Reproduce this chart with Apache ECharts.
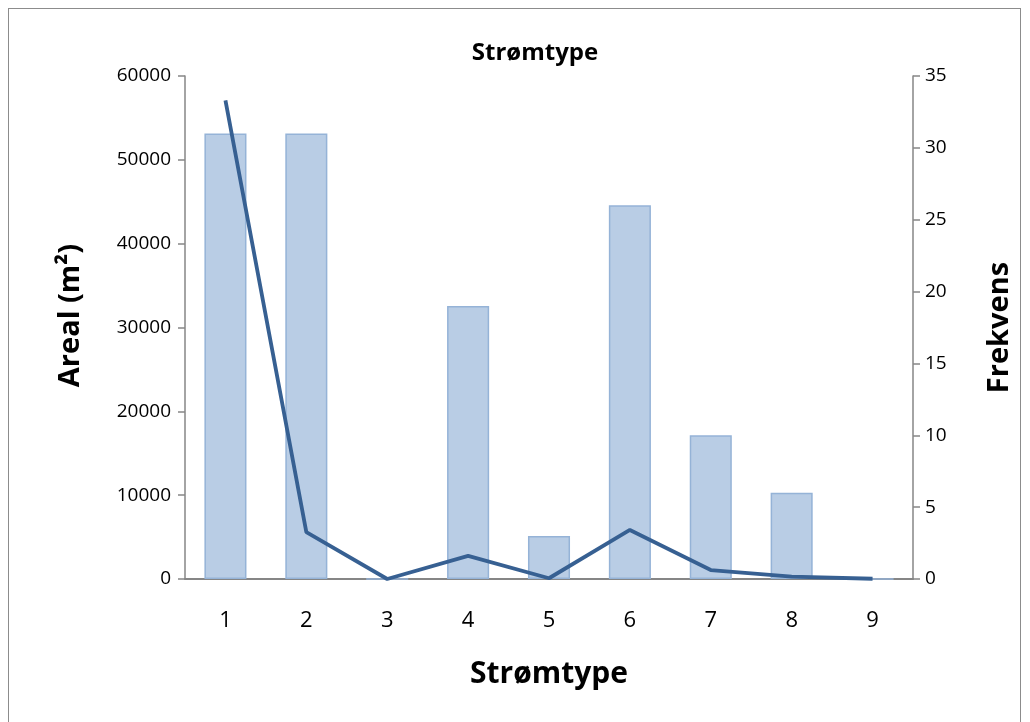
<!DOCTYPE html>
<html>
<head>
<meta charset="utf-8">
<script src="https://cdn.jsdelivr.net/npm/echarts@6/dist/echarts.min.js"></script>
<style>
html,body{margin:0;padding:0;background:#fff;}
#frame{position:absolute;left:8px;top:8px;width:1013px;height:730px;border:1px solid #8c8c8c;box-sizing:border-box;}
#chart{position:absolute;left:0;top:0;width:1030px;height:722px;}
</style>
</head>
<body>
<div id="frame"></div>
<div id="chart"></div>
<script>
const categories = ['1','2','3','4','5','6','7','8','9'];
const frekvens = [31, 31, 0, 19, 3, 26, 10, 6, 0];
const areal = [57100, 5600, 0, 2750, 90, 5850, 1070, 280, 30];
const leftTicks = [0, 60000, 10000];
const rightTicks = [0, 35, 5];

const chart = echarts.init(document.getElementById('chart'));
const axisColor = '#868686';
const font = '"Open Sans", "Liberation Sans", sans-serif';
chart.setOption({
  animation: false,
  title: {
    text: 'Strømtype', left: 530, top: 36, textAlign: 'center',
    textStyle: {fontFamily: font, fontWeight: 'bold', fontSize: 24, color: '#000'}
  },
  grid: {left: 185, right: 117, top: 76, bottom: 143},
  xAxis: {
    type: 'category', data: categories, boundaryGap: true,
    name: 'Strømtype', nameLocation: 'middle', nameGap: 80,
    nameTextStyle: {fontFamily: font, fontWeight: 'bold', fontSize: 30, color: '#000'},
    axisLine: {lineStyle: {color: axisColor, width: 2}},
    axisTick: {alignWithLabel: false, length: 9, lineStyle: {color: axisColor, width: 1.5}},
    axisLabel: {fontFamily: font, fontSize: 22, color: '#000', margin: 31}
  },
  yAxis: [
    {
      type: 'value', position: 'left', min: leftTicks[0], max: leftTicks[1], interval: leftTicks[2],
      name: 'Areal (m²)', nameLocation: 'middle', nameGap: 100, nameRotate: 90,
      nameTextStyle: {fontFamily: font, fontWeight: 'bold', fontSize: 29, color: '#000', padding: [0, 0, 0, 24]},
      axisLine: {show: true, lineStyle: {color: axisColor, width: 1.5}},
      axisTick: {show: true, length: 7, lineStyle: {color: axisColor, width: 1.5}},
      splitLine: {show: false},
      axisLabel: {fontFamily: font, fontSize: 19, color: '#000', margin: 14, formatter: v => String(v)}
    },
    {
      type: 'value', position: 'right', min: rightTicks[0], max: rightTicks[1], interval: rightTicks[2],
      name: 'Frekvens', nameLocation: 'middle', nameGap: 72, nameRotate: 90,
      nameTextStyle: {fontFamily: font, fontWeight: 'bold', fontSize: 29, color: '#000'},
      axisLine: {show: true, lineStyle: {color: axisColor, width: 1.5}},
      axisTick: {show: true, length: 7, lineStyle: {color: axisColor, width: 1.5}},
      splitLine: {show: false},
      axisLabel: {fontFamily: font, fontSize: 19, color: '#000', margin: 12}
    }
  ],
  series: [
    {
      type: 'bar', yAxisIndex: 1, data: frekvens, barWidth: '52%',
      itemStyle: {color: '#b9cde5', borderColor: '#95b3d7', borderWidth: 1.5}
    },
    {
      type: 'line', yAxisIndex: 0, data: areal, symbol: 'none',
      lineStyle: {color: '#376092', width: 3.8}
    }
  ]
});
</script>
</body>
</html>
